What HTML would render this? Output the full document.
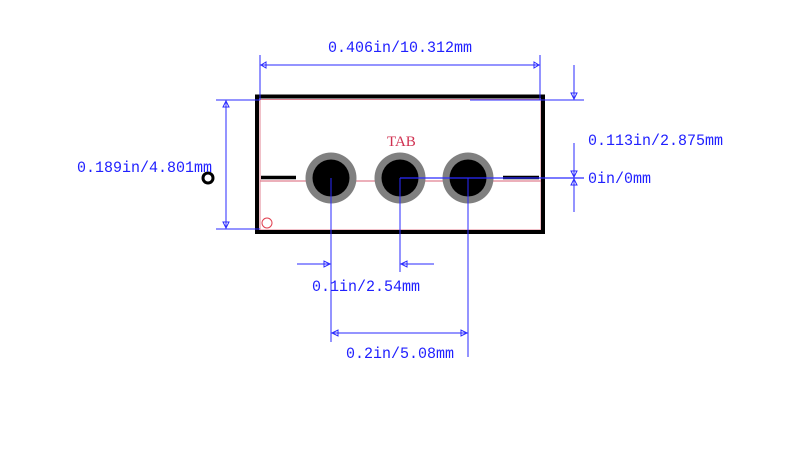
<!DOCTYPE html>
<html><head><style>html,body{margin:0;padding:0;background:#fff;}svg{display:block}</style></head>
<body>
<svg width="800" height="470" xmlns="http://www.w3.org/2000/svg" font-family="Liberation Mono, monospace" font-size="15">
<rect x="0" y="0" width="800" height="470" fill="#fff"/>
<rect x="260" y="99.5" width="281" height="130.5" fill="none" stroke="#e08090" stroke-width="1"/>
<line x1="260" y1="181" x2="541" y2="181" stroke="#e08090" stroke-width="1.2"/>
<circle cx="267" cy="223" r="5" fill="none" stroke="#e04050" stroke-width="1"/>
<rect x="257" y="96.5" width="286" height="135.5" fill="none" stroke="#000" stroke-width="4"/>
<line x1="261" y1="177.5" x2="296" y2="177.5" stroke="#000" stroke-width="3.5"/>
<line x1="503" y1="177.5" x2="539" y2="177.5" stroke="#000" stroke-width="3.5"/>
<g>
<circle cx="331" cy="178" r="25.5" fill="#808080"/><circle cx="331" cy="178" r="18.5" fill="#000"/>
<circle cx="400" cy="178" r="25.5" fill="#808080"/><circle cx="400" cy="178" r="18.5" fill="#000"/>
<circle cx="468" cy="178" r="25.5" fill="#808080"/><circle cx="468" cy="178" r="18.5" fill="#000"/>
</g>
<text x="387" y="146" fill="#d03050" font-family="Liberation Serif, serif" font-size="15">TAB</text>
<circle cx="208" cy="178" r="5" fill="none" stroke="#000" stroke-width="3"/>
<g stroke="#2a2aff" stroke-width="1" fill="none">
<line x1="260" y1="55" x2="260" y2="100"/>
<line x1="540" y1="55" x2="540" y2="100"/>
<line x1="260" y1="65" x2="540" y2="65"/>
<path d="M261 65 L266 62 L266 68 Z M539 65 L534 62 L534 68 Z"/>
<line x1="216" y1="100" x2="260" y2="100"/>
<line x1="216" y1="229" x2="260" y2="229"/>
<line x1="226" y1="100" x2="226" y2="229"/>
<path d="M226 101 L223 107 L229 107 Z M226 228 L223 222 L229 222 Z"/>
<line x1="574" y1="65" x2="574" y2="100"/>
<path d="M574 99 L571 93 L577 93 Z"/>
<line x1="470" y1="100" x2="584" y2="100"/>
<line x1="400" y1="178" x2="584" y2="178" stroke-width="1.3"/>
<line x1="574" y1="143" x2="574" y2="212"/>
<path d="M574 177 L571 171 L577 171 Z M574 179 L571 185 L577 185 Z"/>
<line x1="331" y1="178" x2="331" y2="342"/>
<line x1="400" y1="178" x2="400" y2="272"/>
<line x1="468" y1="178" x2="468" y2="357"/>
<line x1="297" y1="264" x2="331" y2="264"/>
<path d="M330 264 L324 261 L324 267 Z"/>
<line x1="400" y1="264" x2="434" y2="264"/>
<path d="M401 264 L407 261 L407 267 Z"/>
<line x1="331" y1="333" x2="468" y2="333"/>
<path d="M332 333 L338 330 L338 336 Z M467 333 L461 330 L461 336 Z"/>
</g>
<g fill="#2020ff" font-size="16">
<text x="328" y="52" textLength="144" lengthAdjust="spacingAndGlyphs">0.406in/10.312mm</text>
<text x="77" y="172" textLength="135" lengthAdjust="spacingAndGlyphs">0.189in/4.801mm</text>
<text x="588" y="145" textLength="135" lengthAdjust="spacingAndGlyphs">0.113in/2.875mm</text>
<text x="588" y="183" textLength="63" lengthAdjust="spacingAndGlyphs">0in/0mm</text>
<text x="312" y="291" textLength="108" lengthAdjust="spacingAndGlyphs">0.1in/2.54mm</text>
<text x="346" y="358" textLength="108" lengthAdjust="spacingAndGlyphs">0.2in/5.08mm</text>
</g>
</svg>
</body></html>
